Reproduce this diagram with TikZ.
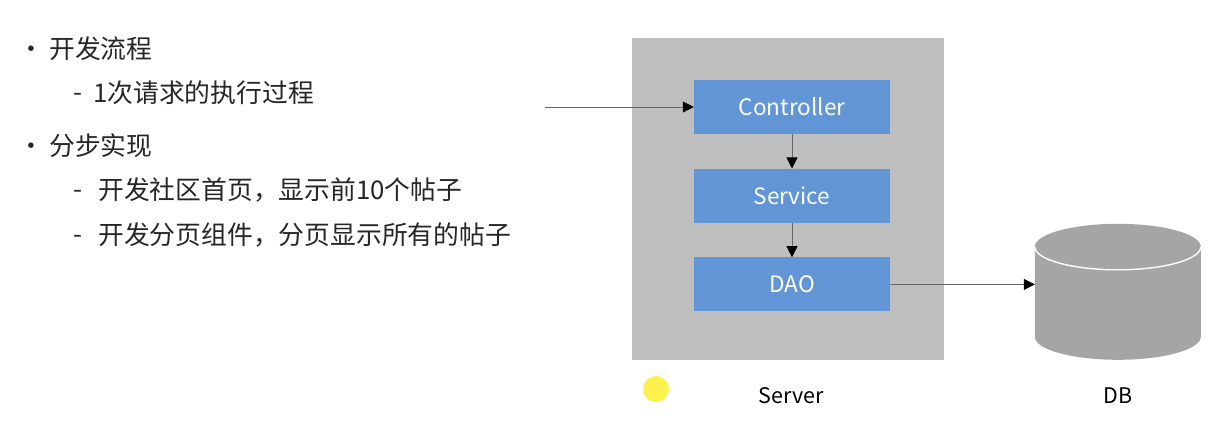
\documentclass[tikz,border=0pt]{standalone}
\usepackage{fontspec}
\setmainfont{Noto Sans CJK SC}
\definecolor{servergray}{RGB}{191,191,191}
\definecolor{layerblue}{RGB}{98,149,214}
\definecolor{dbgray}{RGB}{165,165,165}
\definecolor{pointeryellow}{RGB}{255,241,77}
\usetikzlibrary{positioning}
\usetikzlibrary{arrows.meta}
\tikzset{
  line/.style={anchor=west, inner sep=0pt, font=\fontsize{25.8}{25.8}\selectfont, text=black!85},
  layer/.style={fill=layerblue, text=white, minimum width=196pt, minimum height=54pt, inner sep=0pt, font=\fontsize{22.6}{22.6}\selectfont},
  caption/.style={inner sep=0pt, font=\fontsize{21.5}{21.5}\selectfont, text=black},
  flow/.style={draw=black!60, line width=0.8pt, -{Triangle[length=11pt,width=11pt,color=black]}}
}

\begin{document}
\begin{tikzpicture}[x=1pt, y=1pt]
    \useasboundingbox (0,0) rectangle (1218,-438);

    \node[line] (b1) at (18,-52.5) {•};
    \node[line] (flow) at (49,-48.5) {开发流程};
    \node[line] (d1) at (73,-97.5) {-};
    \node[line] (once) at (93,-92.5) {1次请求的执行过程};
    \node[line] (b2) at (18,-149.5) {•};
    \node[line] (steps) at (49,-145.5) {分步实现};
    \node[line] (d2) at (73,-194.5) {-};
    \node[line] (home) at (98,-189.5) {开发社区首页，显示前10个帖子};
    \node[line] (d3) at (73,-239.5) {-};
    \node[line] (page) at (98,-234.5) {开发分页组件，分页显示所有的帖子};

    \node[fill=servergray, minimum width=312pt, minimum height=322pt, inner sep=0pt] (server) at (788,-199) {};

    \begin{scope}[node distance=34.3pt]
      \node[layer] (ctrl) at (792,-107) {Controller};
      \node[layer, below=of ctrl] (svc) {Service};
      \node[layer, below=of svc] (dao) {DAO};
    \end{scope}

    % cylinder drawn by hand, the node only gives the anchors
    \node[minimum width=166pt, minimum height=136pt, inner sep=0pt] (db) at (1118,-292) {};
    \fill[dbgray] (db.north west) ++ (0,-23) arc[start angle=180, end angle=0, x radius=83, y radius=23]
      -- ++ (0,-90) arc[start angle=360, end angle=180, x radius=83, y radius=23] -- cycle;
    \draw[white, line width=1.4pt] (db.north west) ++ (0,-23) arc[start angle=180, end angle=360, x radius=83, y radius=23];

    \coordinate (entry) at (545,-107);
    \draw[flow] (entry) -- (ctrl.west);
    \draw[flow] (ctrl) -- (svc);
    \draw[flow] (svc) -- (dao);
    \draw[flow] (dao.east) -- (dao.east -| db.west);

    \node[fill=pointeryellow, circle, minimum size=26pt, inner sep=0pt] (pointer) at (656,-389) {};
    \node[caption] (serverlabel) at (791,-396) {Server};
    \node[caption] (dblabel) at (1118,-396) {DB};
\end{tikzpicture}
\end{document}
